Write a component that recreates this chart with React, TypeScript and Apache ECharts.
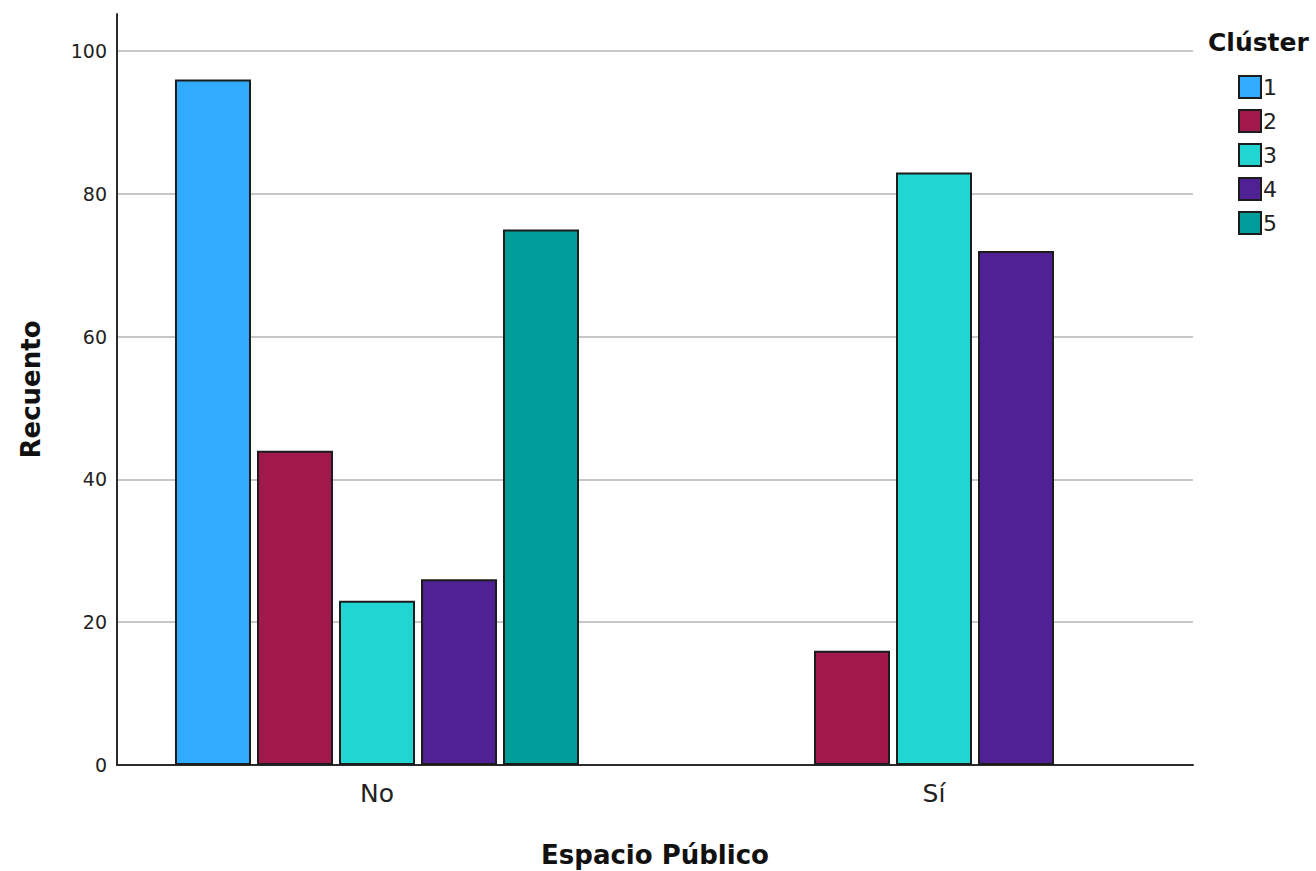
import React, { useEffect, useRef } from "react";
import * as echarts from "echarts";

const categories = ["No", "Sí"];
const clusterNames = ["1", "2", "3", "4", "5"];
// counts per cluster: [No, Sí]
const cluster1 = [96, 0];
const cluster2 = [44, 16];
const cluster3 = [23, 83];
const cluster4 = [26, 72];
const cluster5 = [75, 0];
const clusterColors = ["#31abff", "#a0194a", "#21d5d2", "#4f2195", "#009e9a"];
const yTicks = [0, 20, 40, 60, 80, 100];

const FONT = "DejaVu Sans";

export default function App() {
  const ref = useRef<HTMLDivElement>(null);
  useEffect(() => {
    if (!ref.current) return;
    const chart = echarts.init(ref.current, null, { renderer: "svg" });
    const allSeries = [cluster1, cluster2, cluster3, cluster4, cluster5];
    const series = allSeries.map((vals, i) => ({
      name: clusterNames[i],
      type: "bar",
      xAxisIndex: 2,
      yAxisIndex: 2,
      barWidth: 76,
      barGap: "7.9%",
      data: vals.map((v) => (v === 0 ? null : v)),
      itemStyle: {
        color: clusterColors[i],
        borderColor: "#1c1c1c",
        borderWidth: 2,
      },
    }));
    chart.setOption({
      animation: false,
      backgroundColor: "#ffffff",
      textStyle: { fontFamily: FONT },
      grid: [
        { left: 117, right: 123, top: 14, bottom: 106, outerBoundsMode: "none", containLabel: false },
        { left: 117, right: 123, top: 51, bottom: 106, outerBoundsMode: "none", containLabel: false },
        { left: 98.5, right: 103.5, top: 51, bottom: 106, outerBoundsMode: "none", containLabel: false },
      ],
      xAxis: [
        {
          gridIndex: 0,
          type: "category",
          data: [""],
          axisLine: { show: true, onZero: false, lineStyle: { color: "#2b2b2b", width: 2 } },
          axisTick: { show: false },
          axisLabel: { show: false },
          name: "Espacio Público",
          nameLocation: "middle",
          nameGap: 77,
          nameTextStyle: { fontFamily: FONT, fontSize: 26, fontWeight: "bold", color: "#111" },
        },
        { gridIndex: 1, type: "category", data: [""], show: false },
        {
          gridIndex: 2,
          type: "category",
          data: categories,
          axisLine: { show: false },
          axisTick: { show: false },
          axisLabel: { fontFamily: FONT, fontSize: 25, color: "#222", margin: 16 },
        },
      ],
      yAxis: [
        {
          gridIndex: 0,
          type: "value",
          min: 0,
          max: 105,
          axisLine: { show: true, lineStyle: { color: "#2b2b2b", width: 2 } },
          axisTick: { show: false },
          axisLabel: { show: false },
          splitLine: { show: false },
          name: "Recuento",
          nameLocation: "middle",
          nameGap: 73,
          nameRotate: 90,
          nameTextStyle: { fontFamily: FONT, fontSize: 26, fontWeight: "bold", color: "#111" },
        },
        {
          gridIndex: 1,
          type: "value",
          min: yTicks[0],
          max: yTicks[yTicks.length - 1],
          interval: 20,
          axisLine: { show: false },
          axisTick: { show: false },
          axisLabel: { fontFamily: FONT, fontSize: 19, color: "#222", margin: 10 },
          splitLine: { show: true, showMinLine: false, lineStyle: { color: "#b4b4b4", width: 1.5 } },
        },
        { gridIndex: 2, type: "value", min: 0, max: 100, show: false },
      ],
      legend: {
        orient: "vertical",
        left: 1238,
        top: 75,
        padding: 0,
        itemWidth: 22,
        itemHeight: 22,
        itemGap: 10,
        icon: "rect",
        data: clusterNames,
        textStyle: { fontFamily: FONT, fontSize: 22, color: "#222", padding: [0, 0, 0, -3] },
      },
      graphic: [
        {
          type: "text",
          left: 1208,
          top: 30,
          style: { text: "Clúster", fontFamily: FONT, fontSize: 25, fontWeight: "bold", fill: "#111" },
        },
        {
          type: "text",
          x: 790,
          y: -11,
          style: {
            text: "Gráfico de barras",
            fontFamily: FONT,
            fontSize: 25,
            fontWeight: "bold",
            fill: "#222",
            align: "center",
            verticalAlign: "middle",
          },
        },
      ],
      series,
    });
    return () => chart.dispose();
  }, []);
  return (
    <div
      ref={ref}
      style={{ position: "fixed", left: 0, top: 0, width: 1316, height: 871 }}
    />
  );
}
